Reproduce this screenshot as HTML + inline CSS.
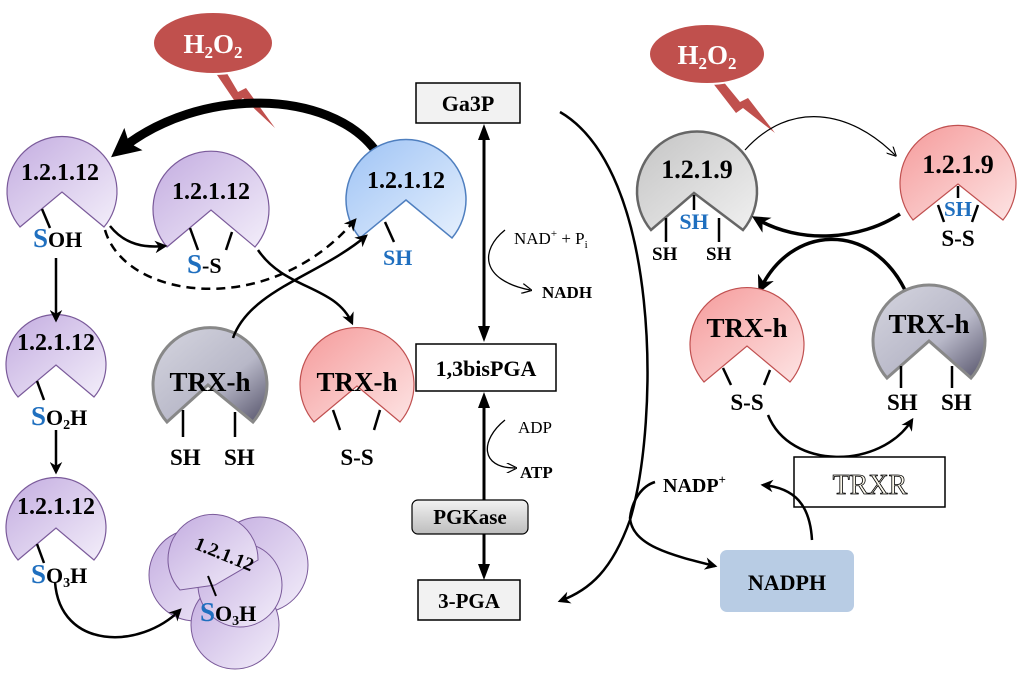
<!DOCTYPE html>
<html><head><meta charset="utf-8"><style>
html,body{margin:0;padding:0;background:#fff;}
svg{display:block;}
text{font-family:"Liberation Serif",serif;font-weight:bold;}
</style></head><body>
<svg width="1024" height="685" viewBox="0 0 1024 685" xmlns="http://www.w3.org/2000/svg">
<defs>
<linearGradient id="pu" x1="0" y1="0" x2="1" y2="1"><stop offset="0" stop-color="#c3ace0"/><stop offset="1" stop-color="#f3eefa"/></linearGradient>
<linearGradient id="bl" x1="0" y1="0" x2="1" y2="1"><stop offset="0" stop-color="#9ec3f5"/><stop offset="1" stop-color="#e6f0fd"/></linearGradient>
<linearGradient id="pk" x1="0" y1="0" x2="1" y2="1"><stop offset="0" stop-color="#f59a9a"/><stop offset="1" stop-color="#fde4e4"/></linearGradient>
<linearGradient id="gr" x1="0" y1="0" x2="1" y2="1"><stop offset="0" stop-color="#c4c4c4"/><stop offset="1" stop-color="#f0f0f0"/></linearGradient>
<linearGradient id="gv" x1="0" y1="0" x2="1" y2="1"><stop offset="0" stop-color="#d6d6e0"/><stop offset="0.6" stop-color="#b8b8c8"/><stop offset="1" stop-color="#55536a"/></linearGradient>
<linearGradient id="pg" x1="0" y1="0" x2="0" y2="1"><stop offset="0" stop-color="#f2f2f2"/><stop offset="1" stop-color="#bdbdbd"/></linearGradient>
<marker id="ah" viewBox="0 0 10 10" refX="8" refY="5" markerWidth="5" markerHeight="5" orient="auto"><path d="M0,0 L10,5 L0,10 L3,5 Z" fill="#000"/></marker>
<marker id="ahs" viewBox="0 0 10 10" refX="8" refY="5" markerWidth="8" markerHeight="8" orient="auto"><path d="M0,0 L10,5 L0,10" fill="none" stroke="#000" stroke-width="1.2"/></marker>
<marker id="ahb" viewBox="0 0 10 10" refX="6" refY="5" markerWidth="3.2" markerHeight="3.2" orient="auto"><path d="M0,0 L10,5 L0,10 L2,5 Z" fill="#000"/></marker>
</defs>

<!-- H2O2 bubbles -->
<path d="M225,70 L238,92 L246,88 L275,128 L243,98 L236,103 L215,72 Z" fill="#c0504d"/>
<ellipse cx="213" cy="43" rx="60" ry="31" fill="#c0504d" stroke="#fff" stroke-width="2"/>
<text x="213" y="53" font-size="27" fill="#fff" text-anchor="middle">H<tspan font-size="17" dy="5">2</tspan><tspan dy="-5">O</tspan><tspan font-size="17" dy="5">2</tspan></text>
<path d="M722,80 L740,102 L748,98 L775,133 L743,108 L736,113 L712,82 Z" fill="#c0504d"/>
<ellipse cx="707" cy="54" rx="58" ry="30" fill="#c0504d" stroke="#fff" stroke-width="2"/>
<text x="707" y="64" font-size="27" fill="#fff" text-anchor="middle">H<tspan font-size="17" dy="5">2</tspan><tspan dy="-5">O</tspan><tspan font-size="17" dy="5">2</tspan></text>

<!-- thick arrow left -->
<path d="M375,150 C330,90 200,85 120,150" fill="none" stroke="#000" stroke-width="9" marker-end="url(#ahb)"/>

<!-- left enzymes -->
<path d="M104,227 A55 55 0 1 0 20,227 L62,192 Z" fill="url(#pu)" stroke="#7a5a9a" stroke-width="1.2"/>
<line x1="42" y1="209" x2="50" y2="228" stroke="#000" stroke-width="2.5"/>
<text x="60" y="180" font-size="24" text-anchor="middle">1.2.1.12</text>
<text x="33" y="247" font-size="22"><tspan fill="#1f6fbf" font-size="27">S</tspan>OH</text>

<path d="M255,247 A58 58 0 1 0 167,247 L211,210 Z" fill="url(#pu)" stroke="#7a5a9a" stroke-width="1.2"/>
<line x1="190" y1="228" x2="198" y2="250" stroke="#000" stroke-width="2.5"/>
<line x1="232" y1="232" x2="226" y2="250" stroke="#000" stroke-width="2.5"/>
<text x="211" y="199" font-size="24" text-anchor="middle">1.2.1.12</text>
<text x="187" y="273" font-size="22"><tspan fill="#1f6fbf" font-size="27">S</tspan>-S</text>

<path d="M452,238 A60 60 0 1 0 360,238 L406,200 Z" fill="url(#bl)" stroke="#4f7fbf" stroke-width="1.5"/>
<line x1="385" y1="222" x2="394" y2="242" stroke="#000" stroke-width="2.5"/>
<text x="406" y="188" font-size="24" text-anchor="middle">1.2.1.12</text>
<text x="383" y="265" font-size="22" fill="#1f6fbf">SH</text>

<path d="M94,397 A50 50 0 1 0 18,397 L56,365 Z" fill="url(#pu)" stroke="#7a5a9a" stroke-width="1.2"/>
<line x1="37" y1="381" x2="44" y2="400" stroke="#000" stroke-width="2.5"/>
<text x="56" y="350" font-size="24" text-anchor="middle">1.2.1.12</text>
<text x="31" y="425" font-size="22"><tspan fill="#1f6fbf" font-size="27">S</tspan>O<tspan font-size="14" dy="4">2</tspan><tspan dy="-4">H</tspan></text>

<path d="M94,560 A50 50 0 1 0 18,560 L56,528 Z" fill="url(#pu)" stroke="#7a5a9a" stroke-width="1.2"/>
<line x1="37" y1="544" x2="44" y2="563" stroke="#000" stroke-width="2.5"/>
<text x="56" y="514" font-size="24" text-anchor="middle">1.2.1.12</text>
<text x="31" y="583" font-size="22"><tspan fill="#1f6fbf" font-size="27">S</tspan>O<tspan font-size="14" dy="4">3</tspan><tspan dy="-4">H</tspan></text>

<!-- aggregate -->
<circle cx="195" cy="575" r="46" fill="url(#pu)" stroke="#7a5a9a"/>
<circle cx="260" cy="565" r="48" fill="url(#pu)" stroke="#7a5a9a"/>
<circle cx="235" cy="625" r="44" fill="url(#pu)" stroke="#7a5a9a"/>
<circle cx="240" cy="585" r="42" fill="url(#pu)" stroke="#7a5a9a"/>
<path d="M180,590 A45 45 0 1 1 258,560 L215,585 Z" fill="url(#pu)" stroke="#7a5a9a"/>
<text x="222" y="560" font-size="19" text-anchor="middle" transform="rotate(22 222 560)">1.2.1.12</text>
<line x1="208" y1="576" x2="216" y2="596" stroke="#000" stroke-width="2"/>
<text x="200" y="621" font-size="22"><tspan fill="#1f6fbf" font-size="27">S</tspan>O<tspan font-size="14" dy="4">3</tspan><tspan dy="-4">H</tspan></text>

<!-- TRX left -->
<path d="M253,422 A57 57 0 1 0 167,422 L208,385 Z" fill="url(#gv)" stroke="#888" stroke-width="3"/>
<line x1="183" y1="410" x2="183" y2="437" stroke="#000" stroke-width="2.5"/>
<line x1="235" y1="412" x2="235" y2="437" stroke="#000" stroke-width="2.5"/>
<text x="210" y="391" font-size="27" text-anchor="middle">TRX-h</text>
<text x="170" y="465" font-size="23">SH</text><text x="224" y="465" font-size="23">SH</text>

<path d="M400,422 A57 57 0 1 0 314,422 L357,386 Z" fill="url(#pk)" stroke="#c05050" stroke-width="1.2"/>
<line x1="333" y1="410" x2="340" y2="430" stroke="#000" stroke-width="2.5"/>
<line x1="380" y1="410" x2="374" y2="430" stroke="#000" stroke-width="2.5"/>
<text x="357" y="391" font-size="27" text-anchor="middle">TRX-h</text>
<text x="357" y="465" font-size="23" text-anchor="middle">S-S</text>

<!-- left connectors -->
<path d="M110,226 C125,245 145,248 165,246" fill="none" stroke="#000" stroke-width="2.5" marker-end="url(#ah)"/>
<path d="M105,230 C125,300 270,320 355,220" fill="none" stroke="#000" stroke-width="2.5" stroke-dasharray="9,6" marker-end="url(#ah)"/>
<path d="M258,250 C285,290 335,285 352,323" fill="none" stroke="#000" stroke-width="2.5" marker-end="url(#ah)"/>
<path d="M233,338 C250,290 320,275 366,236" fill="none" stroke="#000" stroke-width="2.5" marker-end="url(#ah)"/>
<line x1="56" y1="258" x2="56" y2="320" stroke="#000" stroke-width="2.5" marker-end="url(#ah)"/>
<line x1="56" y1="430" x2="56" y2="472" stroke="#000" stroke-width="2.5" marker-end="url(#ah)"/>
<path d="M55,582 C60,650 140,650 180,610" fill="none" stroke="#000" stroke-width="2.5" marker-end="url(#ah)"/>

<!-- center column -->
<rect x="416" y="83" width="104" height="40" fill="#f2f2f2" stroke="#000" stroke-width="1.5"/>
<text x="468" y="111" font-size="22" text-anchor="middle">Ga3P</text>
<line x1="484" y1="140" x2="484" y2="328" stroke="#000" stroke-width="3"/>
<path d="M484,124 l-6,16 l12,0 Z"/><path d="M484,342 l-6,-16 l12,0 Z"/>
<path d="M505,230 C480,250 480,280 530,290" fill="none" stroke="#000" stroke-width="1.3" marker-end="url(#ahs)"/>
<text x="514" y="244" font-size="17" style="font-weight:normal">NAD<tspan font-size="11" dy="-7">+</tspan><tspan dy="7"> +  P</tspan><tspan font-size="11" dy="4">i</tspan></text>
<text x="542" y="298" font-size="17">NADH</text>
<rect x="416" y="344" width="140" height="47" fill="#fff" stroke="#000" stroke-width="1.5"/>
<text x="486" y="376" font-size="22" text-anchor="middle">1,3bisPGA</text>
<line x1="484" y1="408" x2="484" y2="500" stroke="#000" stroke-width="3"/>
<path d="M484,392 l-6,16 l12,0 Z"/>
<path d="M505,420 C480,440 480,468 515,468" fill="none" stroke="#000" stroke-width="1.3" marker-end="url(#ahs)"/>
<text x="518" y="433" font-size="17" style="font-weight:normal">ADP</text>
<text x="520" y="478" font-size="17">ATP</text>
<rect x="412" y="500" width="116" height="34" rx="6" fill="url(#pg)" stroke="#000" stroke-width="1.2"/>
<text x="470" y="524" font-size="21" text-anchor="middle">PGKase</text>
<line x1="484" y1="534" x2="484" y2="566" stroke="#000" stroke-width="3"/>
<path d="M484,580 l-6,-16 l12,0 Z"/>
<rect x="418" y="580" width="102" height="40" fill="#f2f2f2" stroke="#000" stroke-width="1.5"/>
<text x="469" y="608" font-size="21" text-anchor="middle">3-PGA</text>
<path d="M560,112 C660,170 660,420 630,520 C612,570 590,590 560,601" fill="none" stroke="#000" stroke-width="2.5" marker-end="url(#ah)"/>
<path d="M655,482 C642,486 632,500 630,518 C632,545 670,555 715,566" fill="none" stroke="#000" stroke-width="2.5" marker-end="url(#ah)"/>

<!-- right -->
<path d="M745,150 C790,100 850,110 895,155" fill="none" stroke="#000" stroke-width="1.2" marker-end="url(#ahs)"/>
<path d="M743,230 A60 60 0 1 0 651,230 L694,193 Z" fill="url(#gr)" stroke="#666" stroke-width="2.5"/>
<line x1="694" y1="195" x2="694" y2="210" stroke="#000" stroke-width="2.5"/>
<line x1="666" y1="218" x2="666" y2="242" stroke="#000" stroke-width="2.5"/>
<line x1="719" y1="218" x2="719" y2="242" stroke="#000" stroke-width="2.5"/>
<text x="697" y="178" font-size="26" text-anchor="middle">1.2.1.9</text>
<text x="694" y="229" font-size="22" fill="#1f6fbf" text-anchor="middle">SH</text>
<text x="652" y="260" font-size="19" font-family="Liberation Sans">SH</text>
<text x="706" y="260" font-size="19" font-family="Liberation Sans">SH</text>

<path d="M1003,220 A58 58 0 1 0 913,220 L958,184 Z" fill="url(#pk)" stroke="#c05050" stroke-width="1.2"/>
<line x1="958" y1="186" x2="958" y2="198" stroke="#000" stroke-width="2.5"/>
<line x1="938" y1="205" x2="944" y2="222" stroke="#000" stroke-width="2.5"/>
<line x1="978" y1="205" x2="972" y2="222" stroke="#000" stroke-width="2.5"/>
<text x="958" y="173" font-size="26" text-anchor="middle">1.2.1.9</text>
<text x="958" y="216" font-size="21" fill="#1f6fbf" text-anchor="middle">SH</text>
<text x="958" y="246" font-size="23" text-anchor="middle">S-S</text>

<path d="M900,214 C860,240 800,245 755,218" fill="none" stroke="#000" stroke-width="3.5" marker-end="url(#ah)"/>
<path d="M905,290 C870,220 790,225 760,290" fill="none" stroke="#000" stroke-width="3.5" marker-end="url(#ah)"/>

<path d="M790,382 A57 57 0 1 0 704,382 L747,346 Z" fill="url(#pk)" stroke="#c05050" stroke-width="1.2"/>
<line x1="723" y1="368" x2="731" y2="385" stroke="#000" stroke-width="2.5"/>
<line x1="770" y1="370" x2="764" y2="385" stroke="#000" stroke-width="2.5"/>
<text x="747" y="337" font-size="27" text-anchor="middle">TRX-h</text>
<text x="747" y="410" font-size="23" text-anchor="middle">S-S</text>

<path d="M971,378 A56 56 0 1 0 887,378 L929,341 Z" fill="url(#gv)" stroke="#888" stroke-width="3"/>
<line x1="901" y1="366" x2="901" y2="388" stroke="#000" stroke-width="2.5"/>
<line x1="952" y1="366" x2="952" y2="388" stroke="#000" stroke-width="2.5"/>
<text x="929" y="333" font-size="27" text-anchor="middle">TRX-h</text>
<text x="887" y="410" font-size="23">SH</text><text x="941" y="410" font-size="23">SH</text>

<path d="M768,415 C790,470 880,470 912,420" fill="none" stroke="#000" stroke-width="2.5" marker-end="url(#ah)"/>
<rect x="794" y="457" width="151" height="50" fill="#fff" stroke="#000" stroke-width="1.5"/>
<text x="870" y="494" font-size="28" text-anchor="middle" fill="#fbf8ec" stroke="#000" stroke-width="0.8" style="font-weight:normal">TRXR</text>
<path d="M812,540 C810,505 795,488 763,485" fill="none" stroke="#000" stroke-width="2.5" marker-end="url(#ah)"/>
<text x="663" y="492" font-size="20">NADP<tspan font-size="13" dy="-8">+</tspan></text>
<rect x="720" y="550" width="134" height="62" rx="7" fill="#b8cce4"/>
<text x="787" y="590" font-size="22" text-anchor="middle">NADPH</text>
</svg>
</body></html>
